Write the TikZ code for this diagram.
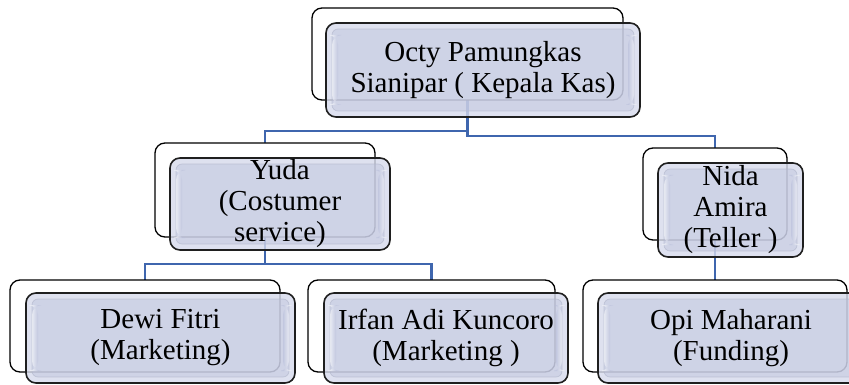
\documentclass[tikz,border=0pt]{standalone}
\usepackage{fontspec}
\setmainfont{Liberation Serif}
\usetikzlibrary{calc}
\pgfdeclarelayer{bg}
\pgfsetlayers{bg,main}
\definecolor{connc}{HTML}{3F66AE}
\definecolor{rimc}{HTML}{D6DAEC}
\definecolor{innerc}{HTML}{B8BEDA}
\definecolor{bevelc}{HTML}{AEB3C8}
\tikzset{
  backbox/.style={draw=black, line width=1.3pt, fill=white, rounded corners=10pt, inner sep=0pt},
  frontbox/.style={draw=black!88, line width=1.6pt, fill=rimc, fill opacity=0.8, text opacity=1,
    rounded corners=10pt, inner sep=0pt, align=center, font=\fontsize{29}{31}\selectfont,
    path picture={
      \fill[innerc, fill opacity=0.4, rounded corners=6pt]
        ([shift={(6pt,6pt)}]path picture bounding box.south west) rectangle
        ([shift={(-6pt,-6pt)}]path picture bounding box.north east);
      \draw[bevelc, draw opacity=0.6, line width=0.7pt, rounded corners=6pt]
        ([shift={(6pt,6pt)}]path picture bounding box.south west) rectangle
        ([shift={(-6pt,-6pt)}]path picture bounding box.north east);
      \shade[left color=white, right color=innerc, fill opacity=0.55]
        ([shift={(6pt,12pt)}]path picture bounding box.south west) rectangle
        ([shift={(12pt,-12pt)}]path picture bounding box.north west);
      \shade[left color=innerc, right color=white, fill opacity=0.55]
        ([shift={(-12pt,12pt)}]path picture bounding box.south east) rectangle
        ([shift={(-6pt,-12pt)}]path picture bounding box.north east);
    }},
  conn/.style={draw=connc, line width=2.4pt}
}
\begin{document}
\begin{tikzpicture}[x=1pt,y=-1pt]
\useasboundingbox (0,0) rectangle (849,385);
\clip (0,0) rectangle (849,385);
% back boxes
\node[backbox, minimum width=311pt, minimum height=92pt] (topb) at (467.5,54) {};
\node[backbox, minimum width=220pt, minimum height=94pt] (yudab) at (265,190) {};
\node[backbox, minimum width=144pt, minimum height=92pt] (nidab) at (715,194) {};
\node[backbox, minimum width=270pt, minimum height=92pt] (dewib) at (145,326) {};
\node[backbox, minimum width=247pt, minimum height=92pt] (irfanb) at (431.5,326) {};
\node[backbox, minimum width=264pt, minimum height=92pt] (opib) at (715,326) {};
% front boxes
\node[frontbox, minimum width=314pt, minimum height=94pt] (top) at (483,70) {Octy Pamungkas\\Sianipar ( Kepala Kas)};
\node[frontbox, minimum width=220pt, minimum height=92pt] (yuda) at (280,204) {Yuda\\(Costumer\\service)};
\node[frontbox, minimum width=145pt, minimum height=94pt] (nida) at (730.5,210) {Nida\\Amira\\(Teller )};
\node[frontbox, minimum width=269pt, minimum height=90pt] (dewi) at (160.5,338) {Dewi Fitri\\(Marketing)};
\node[frontbox, minimum width=244pt, minimum height=90pt] (irfan) at (446,338) {Irfan Adi Kuncoro\\(Marketing )};
\node[frontbox, minimum width=266pt, minimum height=90pt] (opi) at (731,338) {Opi Maharani\\(Funding)};
% connectors (behind)
\coordinate (jl) at (0,131);
\coordinate (jr) at (0,136);
\coordinate (jy) at (0,264);
\begin{pgfonlayer}{bg}
\draw[conn] (topb.center) -- (topb.center |- jl) -| (yudab.center);
\draw[conn] (topb.center) -- (topb.center |- jr) -| (nidab.center);
\draw[conn] (yudab.center) -- (yudab.center |- jy) -| (dewib.center);
\draw[conn] (yudab.center) -- (yudab.center |- jy) -| (irfanb.center);
\draw[conn] (nidab.center) -- (opib.center);
\end{pgfonlayer}
\end{tikzpicture}
\end{document}
